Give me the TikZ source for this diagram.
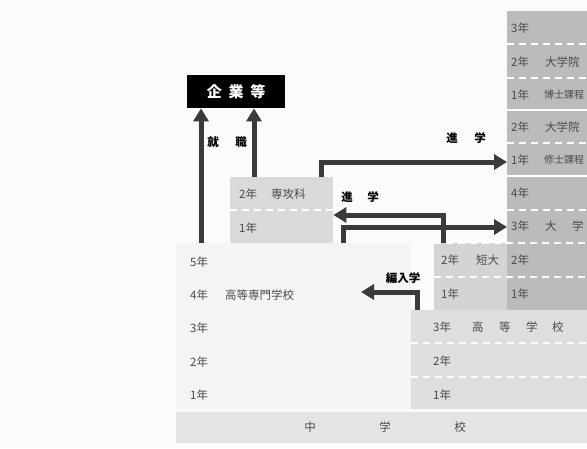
\documentclass[tikz,border=0pt]{standalone}
\usepackage{fontspec}
\setmainfont{Noto Sans CJK JP}
\usetikzlibrary{arrows.meta}
\definecolor{txt}{HTML}{4A4A4A}
\definecolor{arrc}{HTML}{3A3A3A}
\definecolor{univc}{HTML}{BBBBBB}
\definecolor{tandaic}{HTML}{D4D4D4}
\definecolor{koukouc}{HTML}{DEDEDE}
\definecolor{senkouc}{HTML}{DADADA}
\definecolor{kosenc}{HTML}{F4F4F4}
\definecolor{chuc}{HTML}{E4E4E4}
\definecolor{bgc}{HTML}{FBFBFB}
\tikzset{
  box/.style={draw=none, anchor=north west, inner sep=0pt},
  lbl/.style={anchor=west, inner sep=0pt, text=txt, font=\fontsize{11.5}{13}\selectfont},
  slbl/.style={anchor=west, inner sep=0pt, text=txt, font=\fontsize{10}{12}\selectfont},
  blbl/.style={inner sep=0pt, text=black, font=\bfseries\fontsize{11.5}{13}\selectfont},
  sep/.style={white, line width=1.2pt, dash pattern=on 7pt off 5pt},
  solidsep/.style={white, line width=1.4pt},
  arr/.style={arrc, line width=5pt, -{Triangle[length=13pt,width=15pt]}},
}
\begin{document}
\begin{tikzpicture}[x=1pt,y=-1pt]
\useasboundingbox (0,0) rectangle (587,448);
\clip (0,0) rectangle (587,448);
\fill[bgc] (0,0) rectangle (587,448);
% boxes
\node[box, fill=univc, minimum width=85pt, minimum height=299pt] (univ) at (507,11) {};
\node[box, fill=tandaic, minimum width=73pt, minimum height=67pt] (tandai) at (434,243) {};
\node[box, fill=kosenc, minimum width=235pt, minimum height=166pt] (kosen) at (176,243) {};
\node[box, fill=koukouc, minimum width=180pt, minimum height=99pt] (koukou) at (411,310) {};
\node[box, fill=chuc, minimum width=415pt, minimum height=31pt] (chu) at (176,412) {};
\node[box, fill=senkouc, minimum width=103pt, minimum height=66pt] (senkou) at (230,177) {};
\node[box, fill=black, minimum width=98pt, minimum height=33pt] (kigyo) at (187,75) {};
\node[text=white, font=\bfseries\fontsize{15}{16}\selectfont, inner sep=0pt] (kigyot) at (kigyo.center) {企\hspace{0.45em}業\hspace{0.45em}等};
% separators
\draw[sep] (507,44) -- (590,44);
\draw[sep] (507,78) -- (590,78);
\draw[solidsep] (507,110) -- (590,110);
\draw[sep] (507,143) -- (590,143);
\draw[solidsep] (507,176) -- (590,176);
\draw[sep] (507,210) -- (590,210);
\draw[sep] (434,243) -- (590,243);
\draw[sep] (434,277) -- (590,277);
\draw[sep] (411,343) -- (590,343);
\draw[sep] (411,377) -- (590,377);
\draw[sep] (230,210) -- (333,210);
% university texts
\node[lbl] (u1) at (511,28) {3年};
\node[lbl] (u2) at (511,62) {2年};
\node[lbl] (u2b) at (545,62) {大学院};
\node[lbl] (u3) at (511,95) {1年};
\node[slbl] (u3b) at (544,95) {博士課程};
\node[lbl] (u4) at (511,127) {2年};
\node[lbl] (u4b) at (545,127) {大学院};
\node[lbl] (u5) at (511,160) {1年};
\node[slbl] (u5b) at (544,160) {修士課程};
\node[lbl] (u6) at (511,193) {4年};
\node[lbl] (u7) at (511,226) {3年};
\node[lbl] (u7b) at (545,226) {大};
\node[lbl] (u7c) at (572,226) {学};
\node[lbl] (u8) at (511,260) {2年};
\node[lbl] (u9) at (511,294) {1年};
% tandai
\node[lbl] (t1) at (441,260) {2年};
\node[lbl] (t1b) at (476,260) {短大};
\node[lbl] (t2) at (441,294) {1年};
% koukou
\node[lbl] (k1) at (433,327) {3年};
\node[lbl] (k1a) at (472,327) {高};
\node[lbl] (k1b) at (499,327) {等};
\node[lbl] (k1c) at (526,327) {学};
\node[lbl] (k1d) at (552,327) {校};
\node[lbl] (k2) at (433,361) {2年};
\node[lbl] (k3) at (433,395) {1年};
% kosen
\node[lbl] (s5) at (190,262) {5年};
\node[lbl] (s4) at (190,295) {4年};
\node[lbl] (s4b) at (225,295) {高等専門学校};
\node[lbl] (s3) at (190,328) {3年};
\node[lbl] (s2) at (190,362) {2年};
\node[lbl] (s1) at (190,395) {1年};
% senkou
\node[lbl] (e2) at (239,194) {2年};
\node[lbl] (e2b) at (271,194) {専攻科};
\node[lbl] (e1) at (239,228) {1年};
% chugaku
\node[lbl, anchor=center] (c1) at (310,427) {中};
\node[lbl, anchor=center] (c2) at (385,427) {学};
\node[lbl, anchor=center] (c3) at (460,427) {校};
% arrows
\coordinate (a1) at (201,243);
\draw[arr] (a1) -- (a1 |- kigyo.south);
\coordinate (a2) at (254,177);
\draw[arr] (a2) -- (a2 |- kigyo.south);
\coordinate (a3) at (321,177);
\coordinate (a3c) at (321,162);
\draw[arr] (a3) -- (a3c) -- (a3c -| univ.west);
\coordinate (a4) at (443,243);
\coordinate (a4c) at (443,215);
\draw[arr] (a4) -- (a4c) -- (a4c -| senkou.east);
\coordinate (a5) at (343,243);
\coordinate (a5c) at (343,227);
\draw[arr] (a5) -- (a5c) -- (a5c -| univ.west);
\coordinate (a6) at (417,310);
\coordinate (a6c) at (417,292);
\coordinate (a6t) at (361,292);
\draw[arr] (a6) -- (a6c) -- (a6t);
% bold labels
\node[blbl] (l1) at (213,142) {就};
\node[blbl] (l2) at (241,142) {職};
\node[blbl] (l3) at (452,138) {進};
\node[blbl] (l4) at (480,138) {学};
\node[blbl] (l5) at (347,197) {進};
\node[blbl] (l6) at (373,197) {学};
\node[blbl] (l7) at (403,278) {編入学};
\end{tikzpicture}
\end{document}
